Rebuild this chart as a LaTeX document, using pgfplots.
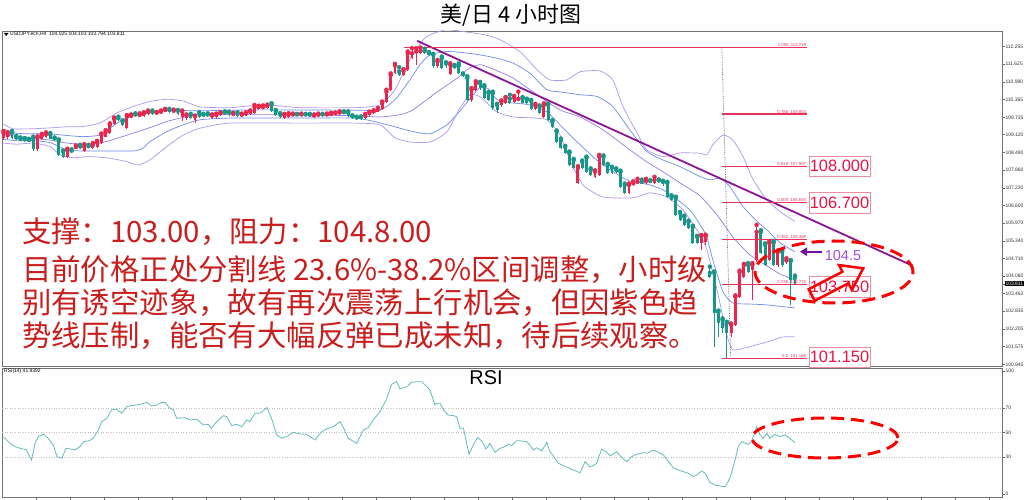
\documentclass[border=0pt]{standalone}
\usepackage{fontspec}
\setmainfont{Liberation Sans}
\newfontfamily\cjk{Noto Sans CJK SC}
\usepackage{pgfplots}
\pgfplotsset{compat=1.18}
\usepackage{pgfplotstable}
\usetikzlibrary{arrows.meta}
\definecolor{upred}{RGB}{232,38,78}
\definecolor{dnteal}{RGB}{24,150,136}
\definecolor{bbpurple}{RGB}{175,150,240}
\definecolor{bbblue}{RGB}{110,140,235}
\definecolor{bbmid}{RGB}{150,125,228}
\definecolor{trendpurple}{RGB}{140,20,150}
\definecolor{fibred}{RGB}{232,50,90}
\definecolor{boxborder}{RGB}{240,140,160}
\definecolor{boxtext}{RGB}{232,20,70}
\definecolor{redtext}{RGB}{200,30,30}
\definecolor{rsicol}{RGB}{100,185,190}
\definecolor{arrowpurple}{RGB}{120,10,160}
\definecolor{lightpurple}{RGB}{160,80,225}
\begin{document}
\pgfplotstableread{
x o h l c
0 109.00 109.25 108.93 109.18
1 109.04 109.20 108.98 109.11
8 108.60 109.06 108.55 109.02
9 108.97 109.15 108.93 109.09
10 109.05 109.20 109.00 109.14
15 108.34 108.62 108.28 108.57
17 108.64 108.74 108.60 108.68
19 108.54 108.78 108.50 108.70
21 108.66 108.82 108.62 108.76
22 108.68 108.90 108.64 108.84
23 108.82 109.16 108.80 109.11
24 109.05 109.28 109.02 109.21
25 109.18 109.52 109.15 109.47
26 109.49 109.73 109.45 109.68
29 109.35 109.82 109.31 109.76
30 109.74 109.84 109.70 109.79
32 109.79 109.88 109.75 109.82
33 109.80 109.92 109.76 109.88
34 109.85 109.98 109.82 109.94
36 109.87 109.93 109.84 109.90
37 109.88 109.98 109.85 109.94
38 109.94 110.04 109.91 110.00
40 109.94 110.01 109.92 109.97
42 109.76 109.98 109.59 109.94
43 109.70 109.84 109.65 109.80
45 109.65 109.80 109.55 109.77
49 109.71 109.84 109.67 109.80
50 109.74 109.87 109.71 109.83
51 109.82 109.92 109.79 109.88
54 109.82 109.90 109.79 109.86
56 109.80 109.87 109.76 109.83
57 109.80 109.92 109.77 109.88
58 109.86 109.98 109.83 109.94
59 109.89 110.18 109.85 110.10
60 110.02 110.15 109.98 110.11
61 110.07 110.16 110.04 110.10
62 110.06 110.19 110.02 110.14
66 109.73 109.86 109.66 109.82
67 109.75 109.88 109.70 109.84
68 109.82 109.87 109.79 109.84
70 109.81 109.87 109.79 109.84
73 109.77 109.84 109.75 109.80
74 109.77 109.87 109.74 109.83
76 109.81 109.87 109.79 109.84
77 109.83 109.90 109.80 109.86
78 109.86 109.91 109.83 109.88
79 109.86 109.95 109.83 109.91
85 109.70 109.86 109.66 109.82
86 109.82 109.94 109.78 109.90
87 109.90 109.99 109.87 109.95
88 109.94 110.07 109.91 110.03
89 110.04 110.30 110.00 110.24
90 110.30 110.72 110.25 110.65
91 110.72 111.30 110.68 111.25
92 111.31 111.64 111.27 111.58
94 111.25 111.45 111.20 111.39
95 111.42 112.08 111.38 112.02
96 111.85 112.20 111.80 112.02
97 112.02 112.20 111.60 112.08
98 112.02 112.22 111.98 112.10
102 111.55 111.78 111.50 111.72
105 111.27 111.66 111.23 111.61
110 110.36 110.78 110.30 110.72
111 110.72 111.02 110.68 110.95
117 110.16 110.34 110.12 110.30
118 110.24 110.46 110.20 110.42
120 110.30 110.50 110.26 110.44
121 110.36 110.65 110.32 110.39
125 110.04 110.22 110.00 110.18
127 109.76 110.24 109.72 110.18
135 107.40 108.00 107.35 107.94
139 107.62 107.85 107.58 107.80
140 107.69 108.40 107.65 108.33
147 107.05 107.38 107.00 107.33
148 107.33 107.46 107.28 107.40
149 107.40 107.55 107.36 107.44
151 107.40 107.55 107.35 107.47
153 107.40 107.62 107.36 107.51
164 105.27 105.55 105.02 105.51
165 105.30 105.56 105.20 105.51
171 102.06 102.40 101.90 102.35
172 102.35 103.40 102.30 103.35
173 103.35 104.28 103.30 104.23
174 104.06 104.52 104.00 104.48
176 104.30 104.55 103.24 104.48
177 104.66 105.91 104.60 105.66
180 104.66 105.33 104.62 105.27
182 104.48 105.00 104.40 104.95
184 104.57 104.72 104.52 104.64
}\upcandles
\pgfplotstableread{
x o h l c
2 109.18 109.25 108.95 109.00
3 109.02 109.08 108.92 108.97
4 108.97 109.02 108.90 108.94
5 108.95 109.00 108.88 108.92
6 108.93 108.97 108.85 108.89
7 108.99 109.05 108.55 108.60
11 109.12 109.18 108.95 108.98
12 108.99 109.02 108.88 108.93
13 108.90 108.95 108.35 108.40
14 108.52 108.56 108.29 108.34
16 108.55 108.60 108.46 108.50
18 108.70 108.76 108.60 108.64
20 108.71 108.76 108.63 108.68
27 109.70 109.76 109.62 109.66
28 109.60 109.63 109.44 109.48
31 109.84 109.88 109.74 109.78
35 109.94 109.98 109.82 109.85
39 110.00 110.04 109.89 109.92
41 109.97 110.00 109.82 109.85
44 109.82 109.86 109.67 109.71
46 109.88 109.92 109.72 109.76
47 109.83 109.86 109.77 109.80
48 109.84 109.88 109.75 109.78
52 109.91 109.95 109.83 109.86
53 109.90 109.94 109.79 109.82
55 109.88 109.92 109.75 109.79
63 110.20 110.24 109.93 109.96
64 109.96 110.00 109.80 109.83
65 109.86 109.89 109.72 109.76
69 109.84 109.86 109.79 109.81
71 109.84 109.86 109.78 109.81
72 109.83 109.86 109.74 109.77
75 109.84 109.86 109.79 109.81
80 109.92 109.95 109.86 109.89
81 109.91 109.95 109.74 109.77
82 109.78 109.81 109.67 109.71
83 109.73 109.76 109.64 109.68
84 109.74 109.77 109.64 109.68
93 111.37 111.52 111.20 111.25
99 112.10 112.18 111.98 112.02
100 112.02 112.06 111.92 111.96
101 111.96 112.00 111.50 111.55
103 111.84 111.90 111.45 111.49
104 111.66 111.70 111.50 111.55
106 111.55 111.60 111.44 111.49
107 111.58 111.66 111.27 111.31
108 111.27 111.30 111.16 111.21
109 111.13 111.20 110.32 110.36
112 110.95 111.00 110.72 110.77
113 110.83 110.88 110.38 110.42
114 110.60 110.64 110.32 110.36
115 110.60 110.65 110.00 110.06
116 110.18 110.22 109.88 110.00
119 110.40 110.54 110.20 110.24
122 110.42 110.46 110.20 110.24
123 110.36 110.40 110.20 110.24
124 110.32 110.36 110.00 110.04
126 110.12 110.16 109.84 109.88
128 110.18 110.22 109.60 109.65
129 109.60 109.64 109.37 109.41
130 109.23 109.27 108.83 108.87
131 108.93 108.98 108.60 108.65
132 108.68 108.72 108.42 108.47
133 108.47 108.52 108.00 108.04
134 108.22 108.26 107.90 107.94
136 108.15 108.20 107.90 107.94
137 108.29 108.34 107.76 107.80
138 107.87 107.92 107.65 107.69
141 108.33 108.38 108.00 108.04
142 108.04 108.08 107.72 107.76
143 107.94 107.98 107.72 107.76
144 107.87 107.92 107.74 107.80
145 107.80 107.84 107.22 107.26
146 107.33 107.38 107.00 107.05
150 107.44 107.52 107.37 107.41
152 107.47 107.50 107.40 107.44
154 107.49 107.53 107.40 107.45
155 107.44 107.48 107.30 107.35
156 107.40 107.44 106.86 106.91
157 106.91 106.96 106.76 106.80
158 106.87 106.91 106.22 106.26
159 106.33 106.37 106.04 106.09
160 106.20 106.24 105.87 105.91
161 106.02 106.06 105.76 105.80
162 105.84 105.88 105.22 105.27
163 105.48 105.52 105.22 105.27
166 104.20 104.42 104.00 104.06
167 104.20 104.25 101.57 102.77
168 102.81 102.86 101.92 102.42
169 102.53 102.58 102.05 102.24
170 102.42 102.46 101.17 102.06
175 104.48 104.55 104.20 104.24
178 105.66 105.72 104.86 104.91
179 105.20 105.25 104.44 104.48
181 105.27 105.33 104.44 104.48
183 104.95 105.00 104.42 104.48
185 104.62 104.66 103.06 103.95
186 104.025 104.103 103.794 103.811
}\downcandles
\begin{tikzpicture}[x=1bp,y=1bp]
\fill[white] (0bp,0bp) rectangle (1024bp,500bp);
% ---------------- main price panel ----------------
\begin{axis}[
  at={(2bp,134bp)}, anchor=south west, scale only axis,
  width=1000bp, height=335bp,
  xmin=-0.35, xmax=234.66, ymin=100.885, ymax=112.81,
  axis line style={draw=black!55, line width=0.8bp},
  xtick=\empty,
  ytick pos=right, yticklabel pos=right,
  tick align=outside, major tick length=2.5bp,
  tick style={black!60, line width=0.4bp},
  ytick={100.945,101.575,102.205,102.835,103.462,104.080,104.710,105.340,105.970,106.600,107.230,107.860,108.490,109.120,109.735,110.365,110.990,111.625,112.255},
  yticklabels={100.945,101.575,102.205,102.835,103.462,104.080,104.710,105.340,105.970,106.600,107.230,107.860,108.490,109.120,109.735,110.365,110.990,111.625,112.255},
  yticklabel style={font=\fontsize{5}{6}\selectfont, text=black!80, inner sep=0.8bp},
  extra y ticks={103.811}, extra y tick labels={103.811},
  extra y tick style={yticklabel style={fill=black, text=white, inner sep=0.8bp}},
  /pgf/number format/assume math mode=true,
]
% Bollinger-type bands
\addplot[bbpurple, line width=0.7bp, smooth, tension=0.35] coordinates {
(0,109.50) (2.2,109.33) (6.9,109.33) (10.9,109.36) (14.9,109.40) (18.7,109.41) (22.7,109.54) (26.7,109.90) (30.4,110.12) (34.4,110.30) (38.4,110.38) (42.2,110.32) (46.2,110.11) (53.2,110.08) (59.1,110.16) (63.8,110.16) (69.7,110.08) (82.6,110.08) (88.5,110.18) (92.0,110.72) (95.5,111.78) (99.1,112.57) (103.8,112.85) (108.5,112.78) (113.2,112.67) (116.7,112.50) (121.4,112.07) (125.4,111.43) (128.4,111.07) (132.4,111.07) (135.5,111.36) (140.2,111.39) (143.2,111.07) (145.6,110.11) (148.9,109.18) (151.2,108.58) (155.0,108.34) (159.0,108.47) (163.7,108.46) (165.3,108.40) (166.7,108.76) (169.1,109.11) (171.4,108.93) (173.8,108.34) (176.2,107.51) (179.4,106.80) (182.5,106.38) (186.0,106.03)};
\addplot[bbblue, line width=0.7bp, smooth, tension=0.35] coordinates {
(0,109.32) (3.2,109.17) (6.9,109.15) (10.9,109.15) (14.9,109.09) (18.7,109.05) (22.7,109.11) (26.7,109.53) (30.4,109.80) (34.4,109.89) (38.4,110.00) (42.2,109.98) (46.2,109.97) (57.9,110.00) (69.7,110.00) (82.6,109.99) (88.5,110.00) (92.0,110.36) (95.5,111.07) (97.9,111.61) (100.2,111.96) (104.2,112.08) (108.0,112.04) (112.0,111.96) (116.0,111.84) (119.7,111.67) (123.7,111.31) (127.7,110.72) (131.5,110.63) (135.5,110.54) (139.5,110.48) (143.2,110.12) (147.2,109.29) (151.2,108.52) (155.0,108.22) (159.0,107.98) (163.7,107.63) (166.0,107.51) (168.4,107.57) (170.7,107.27) (173.8,106.56) (177.1,106.03) (179.4,105.73) (182.5,105.27) (186.0,104.95)};
\addplot[bbmid, line width=0.7bp, smooth, tension=0.35] coordinates {
(0,109.15) (3.2,109.05) (6.9,108.99) (10.9,108.93) (14.9,108.82) (18.7,108.78) (22.7,108.82) (26.7,108.99) (30.4,109.17) (34.4,109.37) (38.4,109.59) (42.2,109.73) (46.2,109.83) (57.9,109.83) (69.7,109.83) (82.6,109.79) (88.5,109.75) (93.2,109.83) (96.2,110.00) (101.9,110.64) (106.6,111.13) (109.6,111.50) (112.0,111.61) (114.3,111.50) (119.7,111.14) (125.4,110.54) (130.8,110.00) (135.5,109.75) (140.2,109.36) (143.2,109.04) (147.2,108.58) (151.2,108.15) (155.0,107.80) (159.0,107.40) (163.7,106.94) (167.7,106.26) (171.4,105.48) (175.4,104.84) (179.4,104.45) (182.5,104.16) (186.0,103.95)};
\addplot[bbblue, line width=0.7bp, smooth, tension=0.35] coordinates {
(0,108.96) (3.2,108.90) (6.9,108.91) (10.9,108.84) (14.9,108.58) (18.7,108.54) (30.4,108.54) (32.8,108.64) (34.4,108.87) (38.4,109.23) (42.2,109.47) (46.2,109.65) (53.2,109.71) (69.7,109.71) (82.6,109.71) (88.5,109.54) (92.0,109.40) (96.2,109.23) (100.2,109.15) (104.2,109.47) (107.3,109.97) (110.0,110.47) (112.0,110.80) (114.0,110.75) (116.0,110.36) (119.7,110.25) (123.7,110.18) (127.7,109.93) (130.8,109.47) (135.5,108.76) (140.2,108.12) (146.5,107.51) (151.9,107.33) (155.9,107.08) (161.3,106.44) (163.7,105.91) (165.3,105.48) (166.7,104.66) (169.1,103.52) (171.4,103.13) (175.4,103.09) (179.4,103.06) (186.0,102.95)};
\addplot[bbpurple, line width=0.7bp, smooth, tension=0.35] coordinates {
(0,108.82) (3.1,108.78) (7.0,108.82) (10.9,108.70) (13.3,108.40) (16.4,108.30) (20.3,108.34) (25.0,108.28) (29.0,108.16) (31.7,108.04) (34.4,108.22) (38.4,108.70) (42.3,109.11) (46.2,109.35) (53.2,109.53) (69.7,109.53) (82.6,109.53) (88.5,109.47) (92.0,109.01) (95.5,108.86) (100.2,108.86) (104.2,109.22) (107.3,110.07) (109.6,110.54) (112.0,110.47) (116.0,109.93) (119.7,109.75) (123.7,109.72) (127.7,109.65) (130.8,109.11) (133.1,108.22) (136.2,107.33) (140.9,106.90) (147.9,106.87) (151.9,107.05) (155.9,106.90) (159.7,106.44) (163.7,105.55) (165.3,105.02) (167.7,103.59) (170.0,101.99) (171.4,101.46) (174.3,101.53) (179.4,101.74) (183.2,101.92) (186.0,101.92)};
% candles: wicks
\addplot[only marks, mark=none, upred, error bars/.cd, y dir=minus, y explicit, error mark=none, error bar style={line width=0.8bp, upred}]
  table[x=x, y=h, y error minus expr=\thisrow{h}-\thisrow{l}] {\upcandles};
\addplot[only marks, mark=none, dnteal, error bars/.cd, y dir=minus, y explicit, error mark=none, error bar style={line width=0.8bp, dnteal}]
  table[x=x, y=h, y error minus expr=\thisrow{h}-\thisrow{l}] {\downcandles};
% candles: bodies
\addplot[only marks, mark=none, upred, error bars/.cd, y dir=minus, y explicit, error mark=none, error bar style={line width=2.9bp, upred}]
  table[x=x, y=c, y error minus expr=\thisrow{c}-\thisrow{o}] {\upcandles};
\addplot[only marks, mark=none, dnteal, error bars/.cd, y dir=minus, y explicit, error mark=none, error bar style={line width=2.9bp, dnteal}]
  table[x=x, y=o, y error minus expr=\thisrow{o}-\thisrow{c}] {\downcandles};
% trend line
\addplot[trendpurple, line width=1.8bp] coordinates {(97.2,112.46) (213.7,104.45)};
% fibonacci levels
\addplot[fibred, line width=1.1bp] coordinates {(94.1,112.219) (188.8,112.219)};
\addplot[fibred, line width=1.1bp] coordinates {(168.9,109.854) (188.8,109.854)};
\addplot[fibred, line width=1.1bp] coordinates {(168.9,107.997) (188.8,107.997)};
\addplot[fibred, line width=1.1bp] coordinates {(168.9,106.693) (188.8,106.693)};
\addplot[fibred, line width=1.1bp] coordinates {(168.9,105.388) (188.8,105.388)};
\addplot[fibred, line width=1.1bp] coordinates {(168.9,103.775) (188.8,103.775)};
\addplot[fibred, line width=1.1bp] coordinates {(168.9,101.166) (188.8,101.166)};
\addplot[black!60, densely dotted, line width=0.7bp] coordinates {(168.8,112.24) (170.9,101.19)};
\node[anchor=south east, inner sep=0.6bp, text=fibred, font=\fontsize{4.3}{5}\selectfont] at (axis cs:188.8,112.219) {1.000\ \ 112.219};
\node[anchor=south east, inner sep=0.6bp, text=fibred, font=\fontsize{4.3}{5}\selectfont] at (axis cs:188.8,109.854) {0.786\ \ 109.854};
\node[anchor=south east, inner sep=0.6bp, text=fibred, font=\fontsize{4.3}{5}\selectfont] at (axis cs:188.8,107.997) {0.618\ \ 107.997};
\node[anchor=south east, inner sep=0.6bp, text=fibred, font=\fontsize{4.3}{5}\selectfont] at (axis cs:188.8,106.693) {0.500\ \ 106.693};
\node[anchor=south east, inner sep=0.6bp, text=fibred, font=\fontsize{4.3}{5}\selectfont] at (axis cs:188.8,105.388) {0.382\ \ 105.388};
\node[anchor=south east, inner sep=0.6bp, text=fibred, font=\fontsize{4.3}{5}\selectfont] at (axis cs:188.8,103.775) {0.236\ \ 103.775};
\node[anchor=south east, inner sep=0.6bp, text=fibred, font=\fontsize{4.3}{5}\selectfont] at (axis cs:188.8,101.166) {0.0\ \ 101.166};
\end{axis}
% ---------------- RSI panel ----------------
\begin{axis}[
  at={(2bp,3bp)}, anchor=south west, scale only axis,
  width=1000bp, height=129bp,
  xmin=-0.35, xmax=234.66, ymin=-2.44, ymax=102.4,
  axis line style={draw=black!55, line width=0.8bp},
  xtick={7.6,15.6,...,231.6}, xticklabels={}, xtick pos=bottom,
  ytick={0,30,50,70,100}, yticklabels={0,30,50,70,100},
  ytick pos=right, yticklabel pos=right,
  tick align=outside, major tick length=2.5bp,
  tick style={black!60, line width=0.4bp},
  yticklabel style={font=\fontsize{5}{6}\selectfont, text=black!80, inner sep=0.8bp},
  /pgf/number format/assume math mode=true,
]
\addplot[black!25, dotted, line width=0.6bp] coordinates {(-0.35,70) (234.66,70)};
\addplot[black!25, dotted, line width=0.6bp] coordinates {(-0.35,50) (234.66,50)};
\addplot[black!25, dotted, line width=0.6bp] coordinates {(-0.35,30) (234.66,30)};
\addplot[rsicol, line width=0.8bp] coordinates {
(0,45.8) (0.35,45.3) (1.5,41.2) (2.7,38.5) (3.9,37.1) (5.4,35.8) (6.6,27.6) (7.4,41.2) (8.2,46.6) (9.4,48.5) (10.5,45.3) (11.7,39.8) (12.6,30.3) (13.7,29.0) (14.7,37.1) (15.6,36.6) (16.8,35.8) (18.0,38.5) (18.8,42.5) (20.3,43.4) (21.1,45.3) (22.3,52.0) (23.1,58.8) (24.3,61.5) (25.4,68.3) (26.6,69.1) (27.8,65.6) (29.0,71.0) (30.1,71.8) (31.3,72.4) (32.5,73.2) (33.7,74.5) (34.8,71.5) (36.0,72.4) (37.2,74.5) (38.0,74.3) (39.1,69.7) (39.9,68.3) (40.7,61.5) (42.7,62.0) (43.8,60.2) (45.4,60.7) (47.0,56.1) (48.1,56.6) (48.9,53.4) (50.1,58.8) (51.7,63.7) (52.5,62.9) (53.6,55.6) (54.8,56.6) (56.0,54.7) (57.2,60.2) (57.9,58.8) (59.1,65.6) (60.3,65.6) (61.9,70.2) (63.0,61.5) (64.2,48.0) (65.4,45.3) (66.6,46.6) (68.1,50.1) (69.7,48.8) (71.2,48.5) (73.2,43.9) (74.8,50.7) (75.9,52.8) (77.5,54.7) (79.1,58.8) (79.9,53.9) (81.0,45.3) (83.0,41.2) (84.6,52.0) (85.7,53.9) (86.9,60.2) (88.5,66.9) (90.1,77.8) (91.2,89.2) (92.4,91.3) (93.2,85.4) (94.8,87.2) (95.9,90.8) (97.1,91.3) (98.3,91.3) (99.5,87.2) (100.2,84.6) (101.4,72.4) (101.8,73.7) (102.6,73.7) (103.4,68.3) (104.5,64.2) (105.7,63.7) (106.5,62.9) (107.3,53.4) (108.1,53.4) (109.4,32.3) (110.4,39.8) (111.4,45.8) (112.4,43.1) (113.4,36.6) (114.3,41.2) (115.5,33.9) (116.7,37.1) (117.9,38.5) (118.6,40.4) (119.4,39.3) (120.6,43.3) (121.8,43.1) (123.0,42.5) (123.7,39.8) (124.5,35.8) (125.3,37.6) (126.5,35.0) (127.7,42.0) (128.4,34.4) (129.2,31.1) (130.4,25.0) (131.6,23.0) (132.7,21.4) (133.9,19.5) (135.5,17.3) (136.7,26.3) (137.7,22.2) (138.6,23.0) (139.4,25.0) (140.6,36.6) (141.4,35.0) (142.6,31.1) (144.1,34.4) (145.3,29.5) (146.5,26.3) (147.6,30.3) (148.8,32.3) (150.4,33.6) (151.5,33.3) (152.7,35.8) (153.9,33.9) (155.1,31.7) (156.2,26.8) (157.4,21.4) (158.6,19.5) (159.8,18.1) (161.0,16.8) (162.1,14.1) (162.9,15.4) (164.1,18.7) (164.9,16.8) (166.0,9.5) (167.2,7.3) (168.4,6.5) (169.6,5.9) (170.3,10.0) (171.1,16.8) (171.9,27.6) (172.7,38.5) (173.5,42.5) (174.3,41.2) (175.0,40.4) (175.8,42.5) (177.0,54.7) (177.8,48.0) (178.6,45.3) (179.4,49.3) (180.1,45.3) (181.3,48.5) (182.5,46.6) (183.7,48.0) (184.7,45.3) (186,41.9)};
\end{axis}
% ---------------- texts and annotations ----------------
\node[font=\cjk\fontsize{22}{26}\selectfont, inner sep=0] at (511bp,485bp) {美/日 4 小时图};
\fill[black] (4bp,467bp) -- (8.5bp,467bp) -- (6.25bp,464bp) -- cycle;
\node[anchor=west, inner sep=0, font=\fontsize{5}{6}\selectfont] at (10bp,465.5bp) {USDJPY.ecn,H4\ \ 104.025 104.103 103.794 103.811};
\node[anchor=west, inner sep=0, font=\fontsize{5}{6}\selectfont] at (4bp,129bp) {RSI(14) 41.9392};
\node[font=\fontsize{20}{22}\selectfont, inner sep=0] at (486bp,122bp) {RSI};
\begin{scope}[every node/.style={anchor=base west, inner sep=0, text=redtext, font=\cjk\fontsize{29.5}{32}\selectfont}]
\node at (22bp,257bp) {支撑：103.00，阻力：104.8.00};
\node at (22bp,219.5bp) {目前价格正处分割线 23.6\%-38.2\%区间调整，小时级};
\node at (22bp,186.5bp) {别有诱空迹象，故有再次震荡上行机会，但因紫色趋};
\node at (22bp,153.5bp) {势线压制，能否有大幅反弹已成未知，待后续观察。};
\end{scope}
\begin{scope}[every node/.style={draw=boxborder, line width=0.9bp, fill=white, text=boxtext, minimum width=61bp, minimum height=20.5bp, inner sep=0, font=\fontsize{16.5}{18}\selectfont}]
\node at (839.5bp,333.7bp) {108.000};
\node at (839.5bp,297bp) {106.700};
\node at (839.5bp,213bp) {103.750};
\node at (839.5bp,142.7bp) {101.150};
\end{scope}
\draw[red, line width=3bp, dash pattern=on 13bp off 7bp] (834bp,228bp) ellipse [x radius=79bp, y radius=31bp];
\draw[red, line width=3bp, dash pattern=on 13bp off 7bp] (825bp,62bp) ellipse [x radius=73bp, y radius=20bp];
\begin{scope}[shift={(811.7bp,205bp)}, rotate=27.4]
\draw[red, line width=2.5bp, line join=miter] (0bp,-6.5bp) -- (38bp,-6.5bp) -- (38bp,-14bp) -- (58bp,0bp) -- (38bp,14bp) -- (38bp,6.5bp) -- (0bp,6.5bp) -- cycle;
\end{scope}
\draw[arrowpurple, line width=2.2bp, -{Triangle[length=7bp,width=8bp]}] (822bp,248.3bp) -- (800bp,248.3bp);
\node[text=lightpurple, font=\fontsize{14.5}{16}\selectfont, inner sep=0] at (843bp,244bp) {104.5};
\pgfresetboundingbox
\path[use as bounding box] (0bp,0bp) rectangle (1024bp,500bp);
\end{tikzpicture}
\end{document}
